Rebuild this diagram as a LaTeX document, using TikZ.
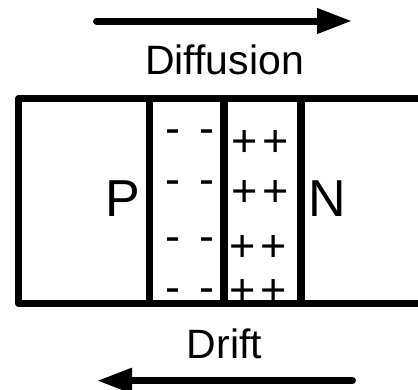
\documentclass[tikz,border=0pt]{standalone}
\usepackage{fontspec}
\setmainfont{Liberation Sans}
\usetikzlibrary{arrows.meta}
\tikzset{
  wall/.style={line width=7.5pt, line join=round, line cap=round},
  flow/.style={line width=7pt, line cap=round, -{Triangle[length=35pt,width=24pt]}},
  sign/.style={inner sep=0pt, anchor=base, font=\fontsize{45}{45}\selectfont},
  big/.style={inner sep=0pt, anchor=base, font=\fontsize{52}{52}\selectfont},
  label/.style={inner sep=0pt, anchor=base, font=\fontsize{41}{41}\selectfont},
}
\begin{document}
\begin{tikzpicture}[x=1pt,y=-1pt]
\useasboundingbox (0,0) rectangle (418,389);
\clip (0,0) rectangle (418,389);
% outer box (right edge beyond the picture)
\draw[wall] (460,98.5) -- (18.5,98.5) -- (18.5,303.5) -- (460,303.5);
\draw[wall,line cap=butt] (149.7,98.5) -- (149.7,303.5);
\draw[wall,line cap=butt] (224,98.5) -- (224,303.5);
\draw[wall,line cap=butt] (301,98.5) -- (301,303.5);
% labels
\node[label] (diff) at (224.5,74) {Diffusion};
\node[label] (drift) at (224.5,358) {Drift};
\node[big] (p) at (122.5,216) {P};
\node[big] (n) at (327,216) {N};
% charges
\foreach \i/\y in {1/143,2/194,3/251,4/302}{
  \node[sign] (m\i a) at (173,\y) {-};
  \node[sign] (m\i b) at (207,\y) {-};
}
\foreach \i/\y/\dx in {1/156/0,2/206/0,3/261/-2,4/305/-2}{
  \node[sign] (p\i a) at (245+\dx,\y) {+};
  \node[sign] (p\i b) at (276+\dx,\y) {+};
}
% arrows
\coordinate (d1) at (96.5,21);
\coordinate (d2) at (352,21);
\coordinate (r1) at (352.5,380.7);
\coordinate (r2) at (97,380.7);
\draw[flow] (d1) -- (d2);
\draw[flow] (r1) -- (r2);
\end{tikzpicture}
\end{document}
